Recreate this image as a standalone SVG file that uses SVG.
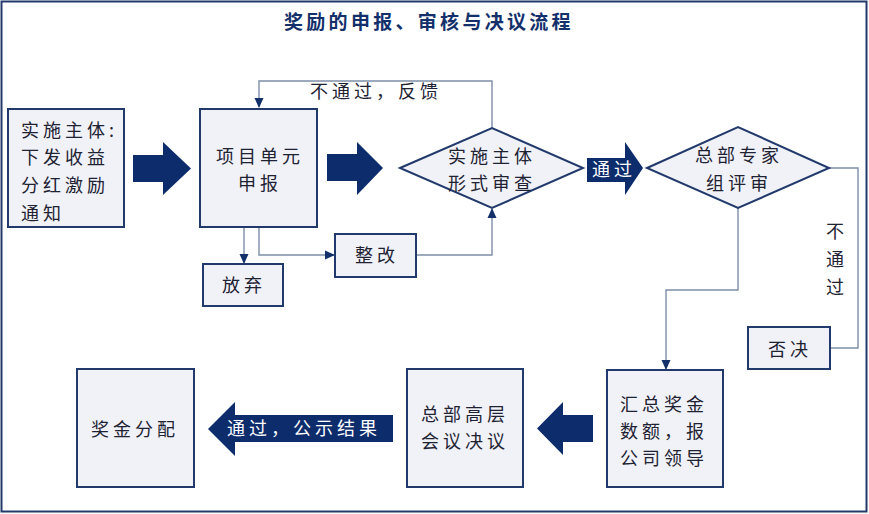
<svg xmlns="http://www.w3.org/2000/svg" width="869" height="514" viewBox="0 0 869 514">
<style>
.box{fill:#f0f2f8;stroke:#22396b;stroke-width:2}
.blk{fill:#0d2c6c}
.ln{fill:none;stroke:#7d8da8;stroke-width:1.4}
.t{font-family:"Noto Sans CJK SC","Noto Sans CJK JP",sans-serif;font-size:18px;fill:#1e2232;letter-spacing:4px}
.c{text-anchor:middle}
.w{fill:#ffffff}
</style>
<defs>
<marker id="ah" markerUnits="userSpaceOnUse" markerWidth="10" markerHeight="10" viewBox="0 0 10 10" refX="9" refY="5" orient="auto">
<path d="M0,0.5 L10,5 L0,9.5 Z" fill="#13306b"/>
</marker>
</defs>
<rect x="1.5" y="1.5" width="865" height="510" fill="#ffffff" stroke="#22396b" stroke-width="2"/>
<text x="284" y="29" font-family="'Noto Sans CJK SC',sans-serif" font-size="19" font-weight="bold" fill="#13306b" letter-spacing="3.3">奖励的申报、审核与决议流程</text>

<g id="connectors">
<path class="ln" d="M492,128 V81 H259 V107" marker-end="url(#ah)"/>
<path class="ln" d="M244,227 V263" marker-end="url(#ah)"/>
<path class="ln" d="M259,227 V255 H334" marker-end="url(#ah)"/>
<path class="ln" d="M416,255 H492 V209" marker-end="url(#ah)"/>
<path class="ln" d="M829,168 H858 V348 H830"/>
<path class="ln" d="M738,208 V290 H666 V369" marker-end="url(#ah)"/>
<path class="blk" d="M133,155 H163 V142 L191,168.5 L163,195 V182 H133 Z"/>
<path class="blk" d="M327,154 H357 V142 L383,168 L357,195 V181 H327 Z"/>
<path class="blk" d="M587,158 H625 V142 L643,168 L625,195 V182 H587 Z"/>
<path class="blk" d="M593,415 H563 V402 L537,428.5 L563,455 V442 H593 Z"/>
<path class="blk" d="M393,415 H235 V402 L208,429 L235,456 V442 H393 Z"/>
<text class="t w" x="592" y="176" letter-spacing="2">通过</text>
<text class="t w" x="227" y="435" letter-spacing="5">通过，公示结果</text>
<text class="t" x="310" y="98" letter-spacing="3.5">不通过，反馈</text>
<text class="t" x="826" y="238">不</text>
<text class="t" x="826" y="266">通</text>
<text class="t" x="826" y="294">过</text>
</g>

<g id="n1">
<rect class="box" x="8" y="109" width="116" height="118"/>
<text class="t" x="21" y="137">实施主体:</text>
<text class="t" x="21" y="164">下发收益</text>
<text class="t" x="21" y="192">分红激励</text>
<text class="t" x="21" y="220">通知</text>
</g>
<g id="n2">
<rect class="box" x="200" y="109" width="117" height="118"/>
<text class="t" x="216" y="163">项目单元</text>
<text class="t" x="238" y="190">申报</text>
</g>
<g id="n3">
<rect class="box" x="203" y="264" width="80" height="42"/>
<text class="t" x="222" y="292">放弃</text>
</g>
<g id="n4">
<rect class="box" x="335" y="234" width="81" height="43"/>
<text class="t" x="355" y="262">整改</text>
</g>
<g id="n5">
<path class="box" d="M400,168 L492,128 L583,168 L492,208 Z"/>
<text class="t" x="448" y="163">实施主体</text>
<text class="t" x="448" y="190">形式审查</text>
</g>
<g id="n6">
<path class="box" d="M647,168 L738,127 L829,168 L738,208 Z"/>
<text class="t" x="695" y="162">总部专家</text>
<text class="t" x="706" y="190">组评审</text>
</g>
<g id="n7">
<rect class="box" x="748" y="327" width="82" height="42"/>
<text class="t" x="768" y="356">否决</text>
</g>
<g id="n8">
<rect class="box" x="607" y="370" width="116" height="117"/>
<text class="t" x="620" y="411">汇总奖金</text>
<text class="t" x="620" y="438">数额，报</text>
<text class="t" x="620" y="465">公司领导</text>
</g>
<g id="n9">
<rect class="box" x="407" y="369" width="116" height="118"/>
<text class="t" x="421" y="421">总部高层</text>
<text class="t" x="421" y="448">会议决议</text>
</g>
<g id="n10">
<rect class="box" x="77" y="369" width="117" height="118"/>
<text class="t" x="91" y="436">奖金分配</text>
</g>
</svg>
